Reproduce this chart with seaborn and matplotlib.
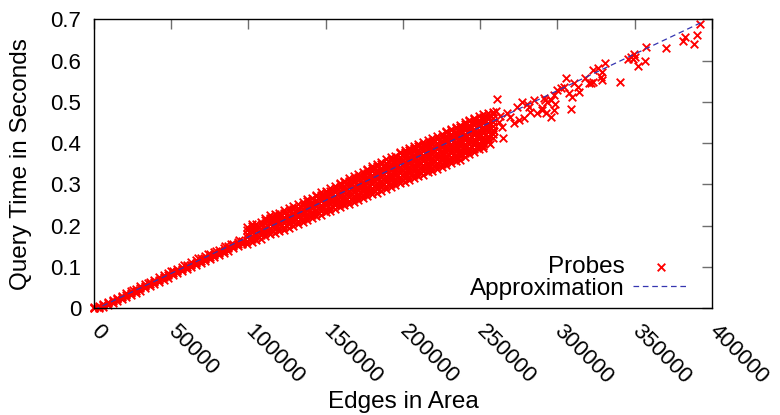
import matplotlib
matplotlib.use("Agg")
import matplotlib.pyplot as plt
import seaborn as sns
import pandas as pd

# ---------------- data (x in thousands of edges, y in milliseconds) ----------------
# dense band, one column of probes per x value
band_x_k = [0, 3, 6, 9, 12, 15, 18, 21, 24, 27, 30, 33, 36, 39, 42, 45, 48, 51, 54,
            57, 60, 63, 66, 69, 72, 75, 78, 81, 84, 87, 90, 93, 96,
            99, 102, 105, 108, 111, 114, 117, 120, 123, 126, 129, 132, 135, 138,
            141, 144, 147, 150, 153, 156, 159, 162, 165, 168, 171, 174, 177, 180,
            183, 186, 189, 192, 195, 198, 201, 204, 207, 210, 213, 216, 219, 222,
            225, 228, 231, 234, 237, 240, 243, 246, 249, 252, 255, 258]
band_y_ms = [
    [0, 1, 3], [1, 4, 6], [4, 7, 10], [8, 12, 15], [13, 17, 20], [18, 22, 26],
    [22, 27, 31], [27, 32, 36], [32, 37, 42], [38, 43, 47], [43, 48, 53],
    [48, 53, 59], [53, 58, 64], [59, 64, 69], [64, 69, 75], [69, 75, 80],
    [74, 80, 86], [80, 85, 91], [85, 90, 96], [90, 96, 101], [95, 100, 106],
    [100, 105, 111], [105, 110, 116], [110, 115, 121], [115, 120, 126],
    [120, 125, 131], [125, 130, 136], [130, 135, 141], [135, 140, 146],
    [140, 145, 151], [145, 150, 155], [150, 155, 160], [155, 159, 164],
    [156, 164, 172, 180, 189, 198],
    [160, 168, 176, 184, 192, 200, 203],
    [165, 173, 181, 189, 196, 203],
    [169, 177, 185, 193, 201, 210],
    [174, 182, 190, 198, 206, 213, 219],
    [179, 187, 195, 203, 211, 218, 225],
    [183, 191, 199, 207, 215, 222, 228],
    [187, 195, 203, 211, 219, 226, 232],
    [190, 198, 206, 214, 222, 230, 237],
    [195, 203, 211, 219, 227, 235, 242],
    [200, 208, 216, 224, 232, 240, 247],
    [204, 212, 220, 228, 236, 244, 252],
    [209, 217, 225, 233, 241, 249, 257],
    [213, 221, 229, 237, 245, 253, 261, 264],
    [218, 226, 234, 242, 250, 258, 266],
    [223, 231, 239, 247, 255, 263, 271, 275],
    [227, 235, 243, 251, 259, 267, 275, 281],
    [233, 241, 249, 257, 265, 273, 280, 285],
    [236, 244, 252, 260, 268, 276, 284, 291],
    [241, 249, 257, 265, 273, 281, 289, 297],
    [245, 253, 261, 269, 277, 285, 293, 301, 304],
    [249, 257, 265, 273, 281, 289, 297, 305, 309],
    [253, 261, 269, 277, 285, 293, 301, 309, 315],
    [257, 265, 273, 281, 289, 297, 305, 313, 321],
    [262, 270, 278, 286, 294, 302, 310, 318, 326],
    [267, 275, 283, 291, 299, 307, 315, 323, 331],
    [271, 279, 287, 295, 303, 311, 319, 327, 335, 338],
    [276, 284, 292, 300, 308, 316, 324, 332, 340, 344],
    [280, 288, 296, 304, 312, 320, 328, 336, 344, 349],
    [285, 293, 301, 309, 317, 325, 333, 341, 349, 355],
    [289, 297, 305, 313, 321, 329, 337, 345, 353, 361],
    [294, 302, 310, 318, 326, 334, 342, 350, 358, 366],
    [298, 306, 314, 322, 330, 338, 346, 354, 362, 370],
    [303, 311, 319, 327, 335, 343, 351, 359, 367, 375, 378],
    [307, 315, 323, 331, 339, 347, 355, 363, 371, 379, 383],
    [311, 319, 327, 335, 343, 351, 359, 367, 375, 383, 389],
    [316, 324, 332, 340, 348, 356, 364, 372, 380, 388, 393],
    [320, 328, 336, 344, 352, 360, 368, 376, 384, 392, 398],
    [324, 332, 340, 348, 356, 364, 372, 380, 388, 396, 403],
    [329, 337, 345, 353, 361, 369, 377, 385, 393, 401, 408],
    [333, 341, 349, 357, 365, 373, 381, 389, 397, 405, 413],
    [337, 345, 353, 361, 369, 377, 385, 393, 401, 409, 418],
    [342, 350, 358, 366, 374, 382, 390, 398, 406, 414, 422],
    [346, 354, 362, 370, 378, 386, 394, 402, 410, 418, 426, 429],
    [351, 359, 367, 375, 383, 391, 399, 407, 415, 423, 431, 435],
    [356, 364, 372, 380, 388, 396, 404, 412, 420, 428, 436, 440],
    [360, 368, 376, 384, 392, 400, 408, 416, 424, 432, 440, 445],
    [367, 375, 383, 391, 399, 407, 415, 423, 431, 439, 447, 451],
    [373, 381, 389, 397, 405, 413, 421, 429, 437, 445, 453, 456],
    [379, 387, 395, 403, 411, 419, 427, 435, 443, 451, 459, 462],
    [385, 393, 401, 409, 417, 425, 433, 441, 449, 457, 465],
    [392, 400, 408, 416, 424, 432, 440, 448, 456, 464, 470],
    [402, 410, 418, 426, 434, 442, 450, 458, 466, 473],
    [412, 422, 432, 442, 452, 462, 470, 476],
]

# scattered probes outside the dense band
sparse_x_k = [25, 35, 50, 58, 67, 74, 79, 85, 89, 94,
              252, 254, 256, 259, 260, 261, 262, 263, 264, 265,
              267.4, 269.5, 271.8, 273.9, 274.9, 277.1, 278.2, 280.4, 281.4, 282.5,
              284.7, 286.8, 290.1, 290.1, 291.3, 292.2, 292.4, 293.5, 295.6, 295.6,
              297.8, 297.8, 298.7, 300.0, 302.0, 304.3, 305.4, 307.5, 308.6, 309.6,
              310.8, 313.0, 314.0, 318.1, 320.5, 321.4, 322.7, 323.0, 325.9, 328.0,
              328.5, 329.1, 330.8, 340.2, 345.8, 347.5, 348.6, 349.7, 350.3, 352.2,
              356.8, 357.5, 370.2, 381.4, 382.5, 388.1, 390.1, 392.2]
sparse_y_ms = [45, 62, 91, 104, 121, 131, 139, 150, 156, 165,
               388, 408, 398, 430, 478, 506, 452, 466, 440, 413,
               474, 464, 448, 488, 456, 500, 460, 496, 488, 476,
               504, 472, 484, 480, 509, 504, 472, 500, 505, 464,
               517, 480, 496, 529, 533, 537, 557, 521, 483, 512,
               545, 537, 525, 557, 545, 546, 577, 549, 583, 561,
               553, 573, 595, 548, 604, 609, 605, 615, 608, 587,
               600, 633, 630, 648, 658, 639, 662, 688]

# fitted approximation (end points)
approx_x = [0, 393000]
approx_y = [-0.004, 0.692]

x_ticks = [0, 50000, 100000, 150000, 200000, 250000, 300000, 350000, 400000]
x_tick_labels = ["0", "50000", "100000", "150000", "200000", "250000",
                 "300000", "350000", "400000"]
y_ticks = [0, 0.1, 0.2, 0.3, 0.4, 0.5, 0.6, 0.7]
y_tick_labels = ["0", "0.1", "0.2", "0.3", "0.4", "0.5", "0.6", "0.7"]

# ---------------- build tables ----------------
px, py = [], []
for xk, ys in zip(band_x_k, band_y_ms):
    for yv in ys:
        px.append(xk * 1000)
        py.append(yv / 1000)
for xk, yv in zip(sparse_x_k, sparse_y_ms):
    px.append(xk * 1000)
    py.append(yv / 1000)
probes = pd.DataFrame({"edges": px, "time": py})
approx = pd.DataFrame({"edges": approx_x, "time": approx_y})

# ---------------- style ----------------
sns.set_style("white")
plt.rcParams["font.family"] = ["Liberation Sans", "DejaVu Sans"]
plt.rcParams["font.size"] = 16
plt.rcParams["text.color"] = "black"
plt.rcParams["axes.labelcolor"] = "black"

fig = plt.figure(figsize=(7.8, 4.15), dpi=100)
ax = fig.add_axes([0.1205, 0.2571, 0.9128 - 0.1205, 0.9535 - 0.2571])

sns.scatterplot(data=probes, x="edges", y="time", ax=ax, marker="x",
                color="#ff0000", s=30, linewidth=1.35, label="Probes",
                clip_on=False, zorder=2)
sns.lineplot(data=approx, x="edges", y="time", ax=ax, color="#3535b0",
             linewidth=0.9, label="Approximation", zorder=3)
ax.lines[-1].set_linestyle((0, (4.5, 3)))

ax.set_xlim(0, 400000)
ax.set_ylim(0, 0.7)
ax.set_xticks(x_ticks)
ax.set_xticklabels(x_tick_labels, rotation=-45, ha="left", va="center",
                   rotation_mode="anchor")
ax.set_yticks(y_ticks)
ax.set_yticklabels(y_tick_labels)
ax.tick_params(axis="both", which="major", direction="in", length=7,
               width=1.0, color="#6e6e6e", labelsize=16, top=True, right=True,
               labelcolor="black")
ax.tick_params(axis="x", pad=14)
ax.tick_params(axis="y", pad=9)
for sp in ax.spines.values():
    sp.set_color("black")
    sp.set_linewidth(1.0)

ax.set_xlabel("Edges in Area", fontsize=17.5, color="black", va="top")
ax.xaxis.set_label_coords(0.5, -0.285)
ax.set_ylabel("Query Time in Seconds", fontsize=17.5, color="black", va="center")
ax.yaxis.set_label_coords(-0.118, 0.5)

handles, labels = ax.get_legend_handles_labels()
leg = ax.legend(handles, labels, loc="lower right", bbox_to_anchor=(0.99, -0.03),
                frameon=False, markerfirst=False, fontsize=17.5, handlelength=2.3,
                handletextpad=0.33, labelspacing=0.0, borderpad=0.2)
for t in leg.get_texts():
    t.set_color("black")

fig.savefig("out.png", dpi=100)
